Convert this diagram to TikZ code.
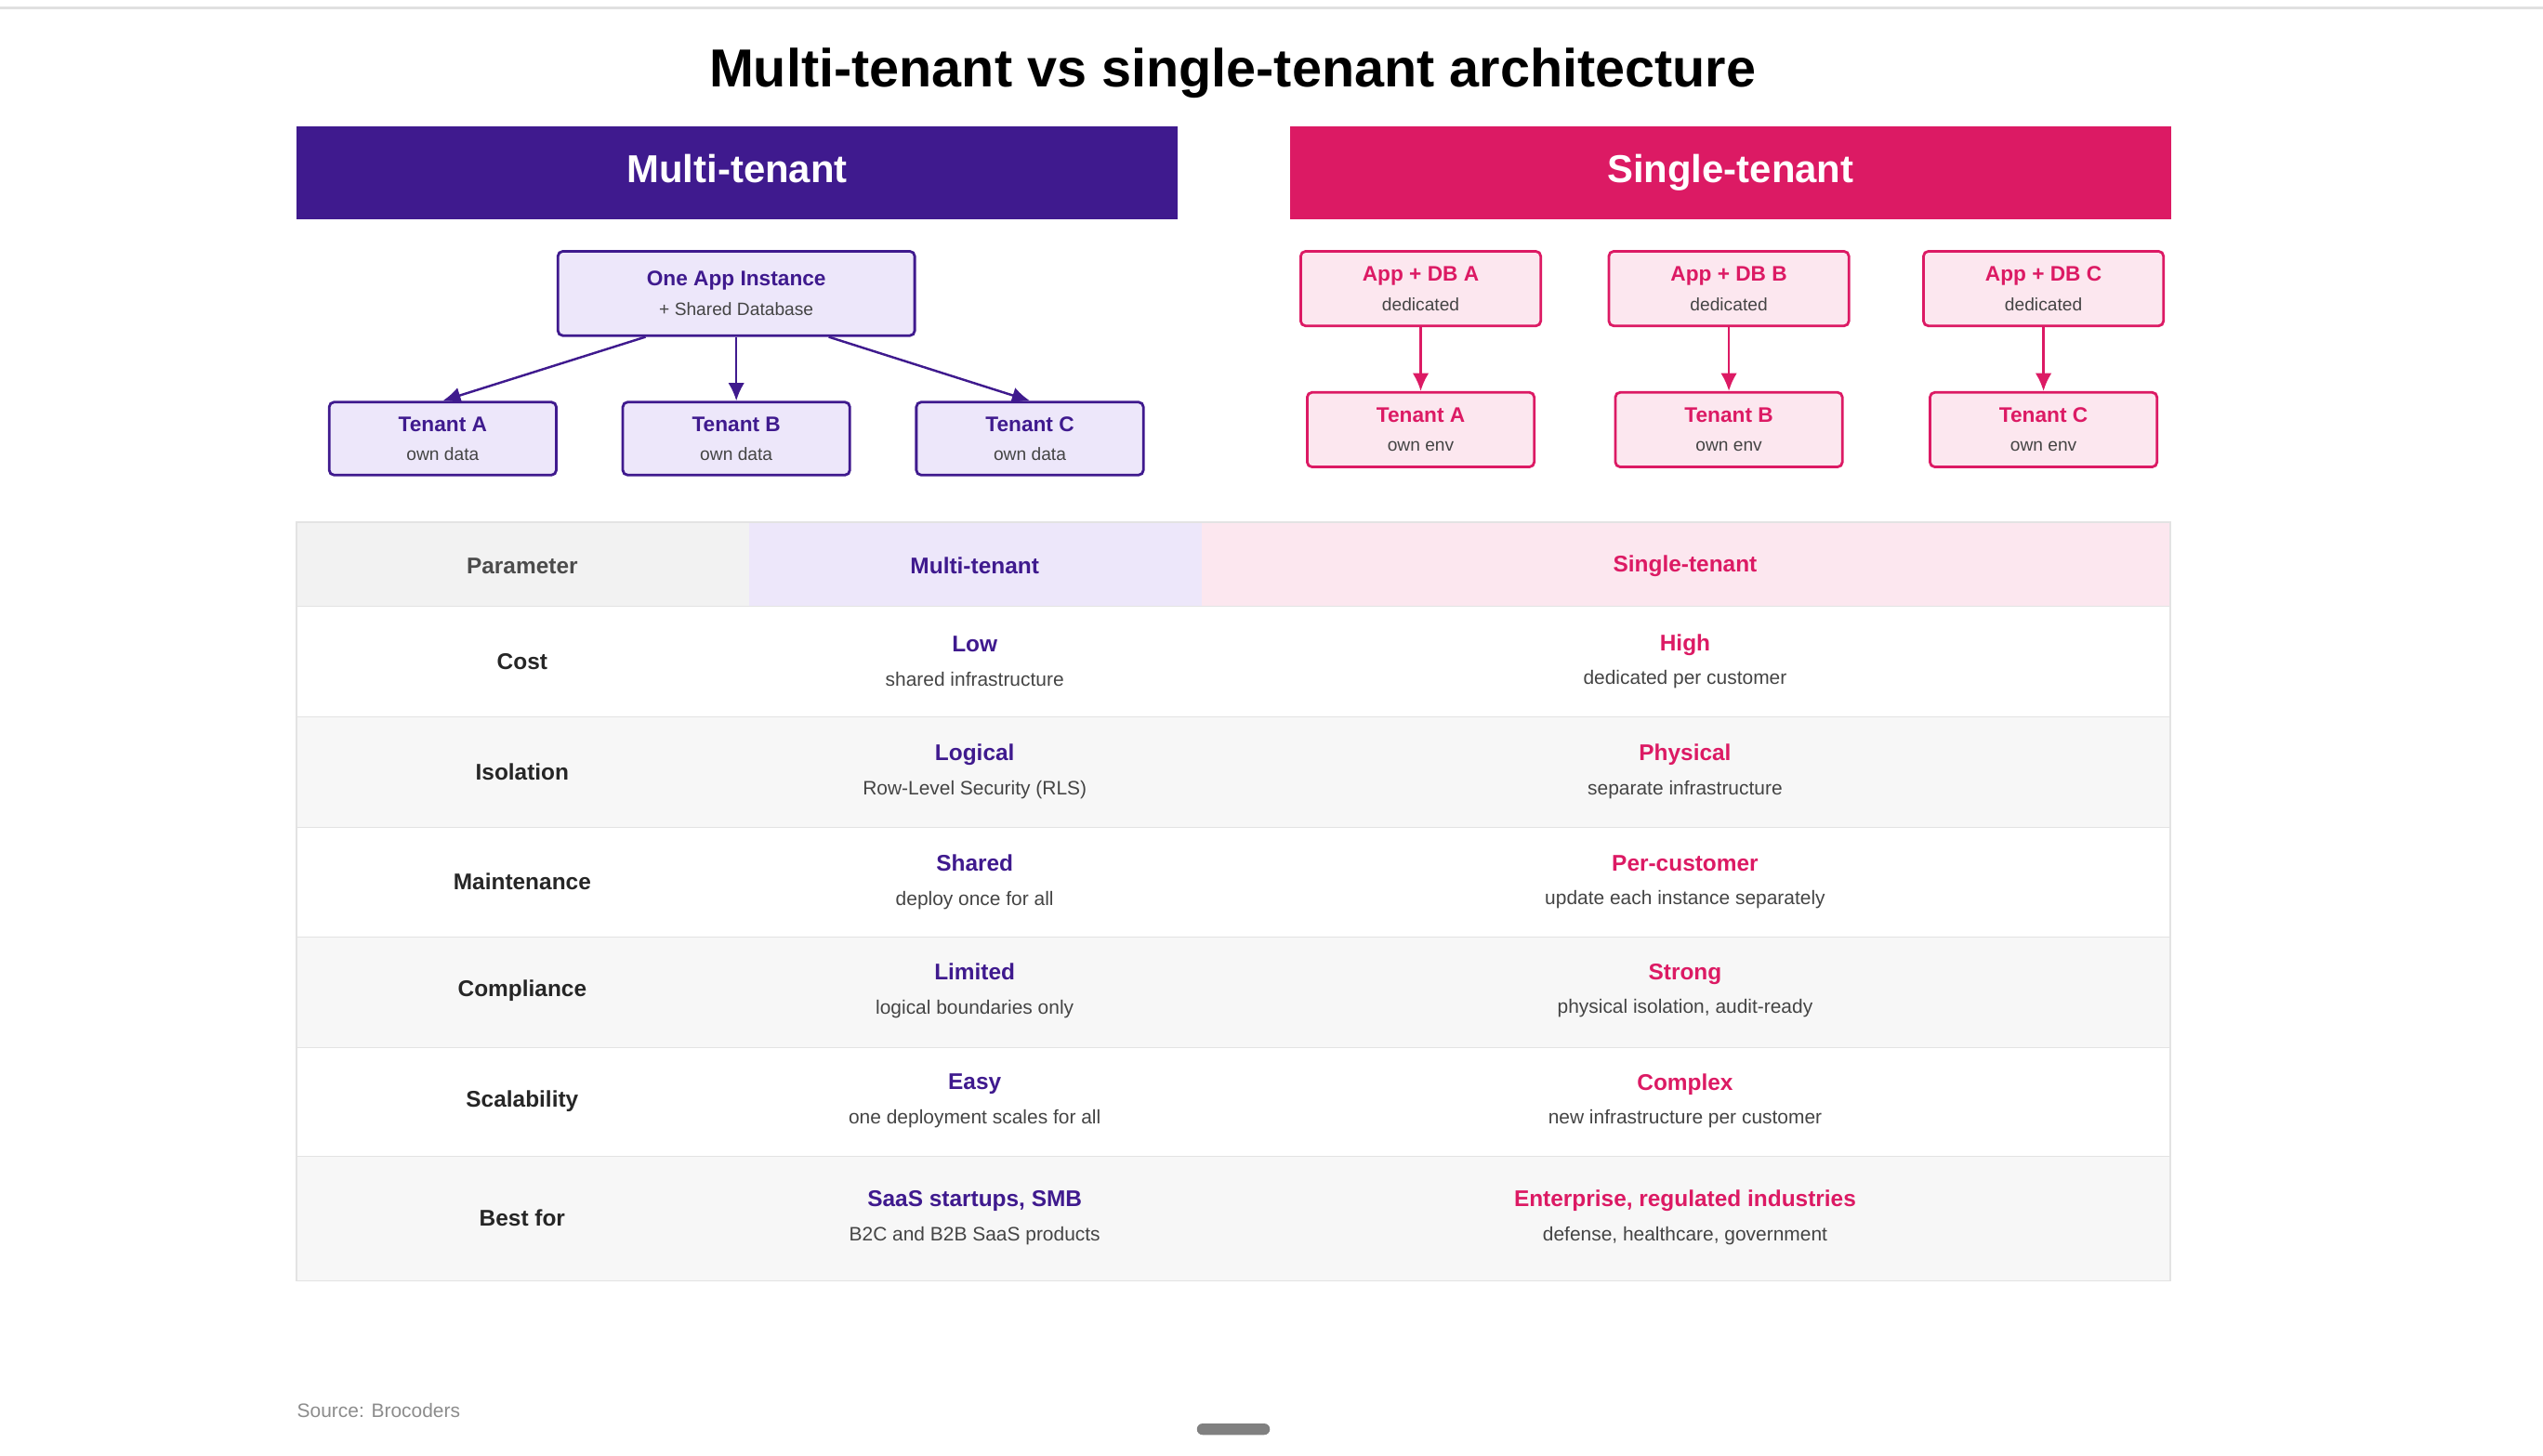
\documentclass[tikz,border=0pt]{standalone}
\usepackage{fontspec}
\setmainfont{Liberation Sans}
\usetikzlibrary{arrows.meta, positioning}
\definecolor{indigo}{HTML}{3F1A8E}
\definecolor{rosy}{HTML}{DC1A64}
\definecolor{indigofill}{HTML}{EDE7FA}
\definecolor{rosyfill}{HTML}{FCE7EF}
\definecolor{subgray}{HTML}{444444}
\definecolor{rulegray}{HTML}{E3E3E3}
\tikzset{
  banner/.style={rectangle, minimum width=543, minimum height=57, text=white,
    text height=17, text depth=5, font=\fontsize{24}{28}\selectfont\bfseries},
  mbox/.style={rectangle, rounded corners=3, draw=indigo, line width=1.6,
    fill=indigofill, align=center, inner sep=0pt},
  sbox/.style={rectangle, rounded corners=3, draw=rosy, line width=1.6,
    fill=rosyfill, align=center, inner sep=0pt},
  marrow/.style={draw=indigo, line width=1.4, -{Latex[length=11,width=10]}},
  sarrow/.style={draw=rosy, line width=1.4, -{Latex[length=11,width=10]}},
  head/.style={font=\fontsize{14}{16}\selectfont\bfseries},
  param/.style={font=\fontsize{14}{16}\selectfont\bfseries, text=black!85},
  cell/.style={align=center, font=\fontsize{14}{16}\selectfont\bfseries}
}
\newcommand{\boxtxt}[3]{{\fontsize{13}{15}\selectfont\bfseries\color{#1}#2}\\[6pt]{\fontsize{11}{13}\selectfont\color{subgray}#3}}
\newcommand{\celltxt}[3]{{\color{#1}#2}\\[5pt]{\fontsize{12}{14}\selectfont\mdseries\color{subgray}#3}}
\begin{document}
\begin{tikzpicture}[x=1pt, y=-1pt]
\useasboundingbox (0,0) rectangle (1568,898);
\fill[white] (0,0) rectangle (1568,898);
\draw[black!12, line width=1.5] (0,5) -- (1568,5);

\node (title) at (760,45) {\fontsize{33}{38}\selectfont\bfseries Multi-tenant vs single-tenant architecture};
\node (multi) [banner, fill=indigo] at (454.5,106.5) {Multi-tenant};
\node (single) [banner, fill=rosy] at (1067,106.5) {Single-tenant};

% multi-tenant tree
\node (app) [mbox, minimum width=220, minimum height=52] at (454,181) {\boxtxt{indigo}{One App Instance}{+ Shared Database}};
\node (ta) [mbox, minimum width=140, minimum height=45] at (273,270.5) {\boxtxt{indigo}{Tenant A}{own data}};
\node (tb) [mbox, minimum width=140, minimum height=45] at (454,270.5) {\boxtxt{indigo}{Tenant B}{own data}};
\node (tc) [mbox, minimum width=140, minimum height=45] at (635,270.5) {\boxtxt{indigo}{Tenant C}{own data}};
\draw[marrow] (app.south -| 398,0) -- (ta.north);
\draw[marrow] (app.south) -- (tb.north);
\draw[marrow] (app.south -| 511,0) -- (tc.north);

% single-tenant stacks
\foreach \n/\x in {A/876, B/1066, C/1260}{
  \node (db\n) [sbox, minimum width=148, minimum height=46] at (\x,178) {\boxtxt{rosy}{App + DB \n}{dedicated}};
  \node (st\n) [sbox, minimum width=140, minimum height=46] at (\x,265) {\boxtxt{rosy}{Tenant \n}{own env}};
  \draw[sarrow] (db\n) -- (st\n);
}

% table
\fill[black!5] (183,322) rectangle (462,374);
\fill[indigofill] (462,322) rectangle (741,374);
\fill[rosyfill] (741,322) rectangle (1338,374);
\fill[black!3] (183,442) rectangle (1338,510);
\fill[black!3] (183,578) rectangle (1338,646);
\fill[black!3] (183,713) rectangle (1338,790);
\foreach \y in {374,442,510,578,646,713}{
  \draw[rulegray] (183,\y) -- (1338,\y);
}
\draw[rulegray, line width=1] (183,322) rectangle (1338,790);

\node (hpar) [head, text=black!70] at (322,349) {Parameter};
\node (hmul) [head, text=indigo] at (601,349) {Multi-tenant};
\node (hsin) [head, text=rosy] at (1039,349) {Single-tenant};

\node (pcost) [param] at (322,408) {Cost};
\node (mcost) [cell] at (601,408) {\celltxt{indigo}{Low}{shared infrastructure}};
\node (scost) [cell] at (1039,408) {\celltxt{rosy}{High}{dedicated per customer}};

\node (piso) [param] at (322,476) {Isolation};
\node (miso) [cell] at (601,476) {\celltxt{indigo}{Logical}{Row-Level Security (RLS)}};
\node (siso) [cell] at (1039,476) {\celltxt{rosy}{Physical}{separate infrastructure}};

\node (pmnt) [param] at (322,544) {Maintenance};
\node (mmnt) [cell] at (601,544) {\celltxt{indigo}{Shared}{deploy once for all}};
\node (smnt) [cell] at (1039,544) {\celltxt{rosy}{Per-customer}{update each instance separately}};

\node (pcmp) [param] at (322,611) {Compliance};
\node (mcmp) [cell] at (601,611) {\celltxt{indigo}{Limited}{logical boundaries only}};
\node (scmp) [cell] at (1039,611) {\celltxt{rosy}{Strong}{physical isolation, audit-ready}};

\node (pscl) [param] at (322,679) {Scalability};
\node (mscl) [cell] at (601,679) {\celltxt{indigo}{Easy}{one deployment scales for all}};
\node (sscl) [cell] at (1039,679) {\celltxt{rosy}{Complex}{new infrastructure per customer}};

\node (pbst) [param] at (322,751) {Best for};
\node (mbst) [cell] at (601,751) {\celltxt{indigo}{SaaS startups, SMB}{B2C and B2B SaaS products}};
\node (sbst) [cell] at (1039,751) {\celltxt{rosy}{Enterprise, regulated industries}{defense, healthcare, government}};

\node (source) [anchor=west, inner sep=0pt, text=black!45] at (183,870) {\fontsize{12}{14}\selectfont Source: Brocoders};
\fill[black!50, rounded corners=3.5] (738,878) rectangle (783,885);
\end{tikzpicture}
\end{document}
